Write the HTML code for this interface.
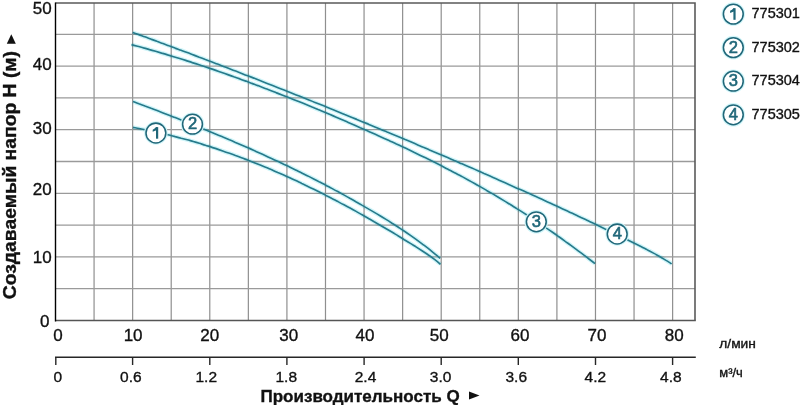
<!DOCTYPE html>
<html><head><meta charset="utf-8"><style>
html,body{margin:0;padding:0;background:#fff;}
body{width:800px;height:405px;overflow:hidden;}
svg{display:block;will-change:transform;font-family:"Liberation Sans",sans-serif;}
</style></head><body>
<svg width="800" height="405" viewBox="0 0 800 405">
<line x1="94.07" y1="3" x2="94.07" y2="320" stroke="#8f8f8f" stroke-width="1.2"/>
<line x1="132.64" y1="3" x2="132.64" y2="320" stroke="#8f8f8f" stroke-width="1.2"/>
<line x1="171.21" y1="3" x2="171.21" y2="320" stroke="#8f8f8f" stroke-width="1.2"/>
<line x1="209.78" y1="3" x2="209.78" y2="320" stroke="#8f8f8f" stroke-width="1.2"/>
<line x1="248.35" y1="3" x2="248.35" y2="320" stroke="#8f8f8f" stroke-width="1.2"/>
<line x1="286.92" y1="3" x2="286.92" y2="320" stroke="#8f8f8f" stroke-width="1.2"/>
<line x1="325.49" y1="3" x2="325.49" y2="320" stroke="#8f8f8f" stroke-width="1.2"/>
<line x1="364.06" y1="3" x2="364.06" y2="320" stroke="#8f8f8f" stroke-width="1.2"/>
<line x1="402.63" y1="3" x2="402.63" y2="320" stroke="#8f8f8f" stroke-width="1.2"/>
<line x1="441.20" y1="3" x2="441.20" y2="320" stroke="#8f8f8f" stroke-width="1.2"/>
<line x1="479.77" y1="3" x2="479.77" y2="320" stroke="#8f8f8f" stroke-width="1.2"/>
<line x1="518.34" y1="3" x2="518.34" y2="320" stroke="#8f8f8f" stroke-width="1.2"/>
<line x1="556.91" y1="3" x2="556.91" y2="320" stroke="#8f8f8f" stroke-width="1.2"/>
<line x1="595.48" y1="3" x2="595.48" y2="320" stroke="#8f8f8f" stroke-width="1.2"/>
<line x1="634.05" y1="3" x2="634.05" y2="320" stroke="#8f8f8f" stroke-width="1.2"/>
<line x1="672.62" y1="3" x2="672.62" y2="320" stroke="#8f8f8f" stroke-width="1.2"/>
<line x1="56" y1="288.70" x2="695" y2="288.70" stroke="#9a9a9a" stroke-width="1.3"/>
<line x1="56" y1="256.90" x2="695" y2="256.90" stroke="#9a9a9a" stroke-width="1.3"/>
<line x1="56" y1="225.10" x2="695" y2="225.10" stroke="#9a9a9a" stroke-width="1.3"/>
<line x1="56" y1="193.30" x2="695" y2="193.30" stroke="#9a9a9a" stroke-width="1.3"/>
<line x1="56" y1="161.50" x2="695" y2="161.50" stroke="#9a9a9a" stroke-width="1.3"/>
<line x1="56" y1="129.70" x2="695" y2="129.70" stroke="#9a9a9a" stroke-width="1.3"/>
<line x1="56" y1="97.90" x2="695" y2="97.90" stroke="#9a9a9a" stroke-width="1.3"/>
<line x1="56" y1="66.10" x2="695" y2="66.10" stroke="#9a9a9a" stroke-width="1.3"/>
<line x1="56" y1="34.30" x2="695" y2="34.30" stroke="#9a9a9a" stroke-width="1.3"/>
<path d="M55.5 3 H695 V320.5" fill="none" stroke="#5a5a5a" stroke-width="1.6"/>
<line x1="55.5" y1="320.4" x2="695.8" y2="320.4" stroke="#555" stroke-width="1.5"/>
<line x1="55.5" y1="2.5" x2="55.5" y2="321.5" stroke="#000" stroke-width="1.4"/>
<path d="M132.7 32.4 C133.7 32.8 136.7 33.9 138.8 34.6 C140.8 35.3 142.8 36.1 144.8 36.8 C146.8 37.6 148.8 38.3 150.9 39.1 C152.9 39.8 154.9 40.5 156.9 41.3 C158.9 42.0 161.0 42.8 163.0 43.5 C165.0 44.3 167.0 45.0 169.0 45.8 C171.1 46.5 173.1 47.3 175.1 48.1 C177.1 48.8 179.1 49.6 181.1 50.3 C183.2 51.1 185.2 51.8 187.2 52.6 C189.2 53.4 191.2 54.1 193.3 54.9 C195.3 55.6 197.3 56.4 199.3 57.2 C201.3 57.9 203.4 58.7 205.4 59.5 C207.4 60.2 209.4 61.0 211.4 61.8 C213.4 62.6 215.5 63.3 217.5 64.1 C219.5 64.9 221.5 65.6 223.5 66.4 C225.6 67.2 227.6 68.0 229.6 68.7 C231.6 69.5 233.6 70.3 235.7 71.1 C237.7 71.9 239.7 72.6 241.7 73.4 C243.7 74.2 245.7 75.0 247.8 75.8 C249.8 76.6 251.8 77.4 253.8 78.1 C255.8 78.9 257.9 79.7 259.9 80.5 C261.9 81.3 263.9 82.1 265.9 82.9 C268.0 83.7 270.0 84.5 272.0 85.3 C274.0 86.1 276.0 86.9 278.0 87.7 C280.1 88.5 282.1 89.3 284.1 90.1 C286.1 90.9 288.1 91.7 290.2 92.5 C292.2 93.3 294.2 94.1 296.2 94.9 C298.2 95.7 300.3 96.5 302.3 97.3 C304.3 98.1 306.3 98.9 308.3 99.7 C310.3 100.5 312.4 101.3 314.4 102.2 C316.4 103.0 318.4 103.8 320.4 104.6 C322.5 105.4 324.5 106.2 326.5 107.1 C328.5 107.9 330.5 108.7 332.6 109.5 C334.6 110.3 336.6 111.2 338.6 112.0 C340.6 112.8 342.6 113.6 344.7 114.5 C346.7 115.3 348.7 116.1 350.7 116.9 C352.7 117.8 354.8 118.6 356.8 119.4 C358.8 120.2 360.8 121.1 362.8 121.9 C364.9 122.7 366.9 123.6 368.9 124.4 C370.9 125.3 372.9 126.1 374.9 126.9 C377.0 127.8 379.0 128.6 381.0 129.4 C383.0 130.3 385.0 131.1 387.1 132.0 C389.1 132.8 391.1 133.7 393.1 134.5 C395.1 135.3 397.2 136.2 399.2 137.0 C401.2 137.9 403.2 138.7 405.2 139.6 C407.2 140.4 409.3 141.3 411.3 142.1 C413.3 143.0 415.3 143.9 417.3 144.7 C419.4 145.6 421.4 146.4 423.4 147.3 C425.4 148.1 427.4 149.0 429.5 149.9 C431.5 150.7 433.5 151.6 435.5 152.4 C437.5 153.3 439.5 154.2 441.6 155.0 C443.6 155.9 445.6 156.8 447.6 157.6 C449.6 158.5 451.7 159.4 453.7 160.3 C455.7 161.1 457.7 162.0 459.7 162.9 C461.8 163.8 463.8 164.6 465.8 165.5 C467.8 166.4 469.8 167.3 471.8 168.1 C473.9 169.0 475.9 169.9 477.9 170.8 C479.9 171.7 481.9 172.6 484.0 173.5 C486.0 174.3 488.0 175.2 490.0 176.1 C492.0 177.0 494.1 177.9 496.1 178.8 C498.1 179.7 500.1 180.6 502.1 181.5 C504.1 182.4 506.2 183.3 508.2 184.2 C510.2 185.1 512.2 186.0 514.2 186.9 C516.3 187.8 518.3 188.7 520.3 189.6 C522.3 190.5 524.3 191.4 526.4 192.3 C528.4 193.2 530.4 194.1 532.4 195.1 C534.4 196.0 536.4 196.9 538.5 197.8 C540.5 198.7 542.5 199.6 544.5 200.6 C546.5 201.5 548.6 202.4 550.6 203.3 C552.6 204.3 554.6 205.2 556.6 206.1 C558.7 207.0 560.7 208.0 562.7 208.9 C564.7 209.8 566.7 210.8 568.7 211.7 C570.8 212.6 572.8 213.6 574.8 214.5 C576.8 215.5 578.8 216.4 580.9 217.4 C582.9 218.3 584.9 219.3 586.9 220.2 C588.9 221.2 591.0 222.1 593.0 223.1 C595.0 224.0 597.0 225.0 599.0 226.0 C601.0 226.9 603.1 227.9 605.1 228.9 C607.1 229.8 609.1 230.8 611.1 231.8 C613.2 232.8 615.2 233.7 617.2 234.7 C619.2 235.7 621.2 236.7 623.3 237.7 C625.3 238.7 627.3 239.7 629.3 240.7 C631.3 241.7 633.3 242.7 635.4 243.7 C637.4 244.7 639.4 245.7 641.4 246.7 C643.4 247.8 645.5 248.8 647.5 249.9 C649.5 250.9 651.5 252.0 653.5 253.1 C655.6 254.2 657.6 255.3 659.6 256.5 C661.6 257.7 663.6 258.8 665.6 260.1 C667.7 261.3 670.7 263.3 671.7 263.9" fill="none" stroke="#d0f5f9" stroke-width="4.2" style="mix-blend-mode:multiply"/>
<path d="M132.7 32.4 C133.7 32.8 136.7 33.9 138.8 34.6 C140.8 35.3 142.8 36.1 144.8 36.8 C146.8 37.6 148.8 38.3 150.9 39.1 C152.9 39.8 154.9 40.5 156.9 41.3 C158.9 42.0 161.0 42.8 163.0 43.5 C165.0 44.3 167.0 45.0 169.0 45.8 C171.1 46.5 173.1 47.3 175.1 48.1 C177.1 48.8 179.1 49.6 181.1 50.3 C183.2 51.1 185.2 51.8 187.2 52.6 C189.2 53.4 191.2 54.1 193.3 54.9 C195.3 55.6 197.3 56.4 199.3 57.2 C201.3 57.9 203.4 58.7 205.4 59.5 C207.4 60.2 209.4 61.0 211.4 61.8 C213.4 62.6 215.5 63.3 217.5 64.1 C219.5 64.9 221.5 65.6 223.5 66.4 C225.6 67.2 227.6 68.0 229.6 68.7 C231.6 69.5 233.6 70.3 235.7 71.1 C237.7 71.9 239.7 72.6 241.7 73.4 C243.7 74.2 245.7 75.0 247.8 75.8 C249.8 76.6 251.8 77.4 253.8 78.1 C255.8 78.9 257.9 79.7 259.9 80.5 C261.9 81.3 263.9 82.1 265.9 82.9 C268.0 83.7 270.0 84.5 272.0 85.3 C274.0 86.1 276.0 86.9 278.0 87.7 C280.1 88.5 282.1 89.3 284.1 90.1 C286.1 90.9 288.1 91.7 290.2 92.5 C292.2 93.3 294.2 94.1 296.2 94.9 C298.2 95.7 300.3 96.5 302.3 97.3 C304.3 98.1 306.3 98.9 308.3 99.7 C310.3 100.5 312.4 101.3 314.4 102.2 C316.4 103.0 318.4 103.8 320.4 104.6 C322.5 105.4 324.5 106.2 326.5 107.1 C328.5 107.9 330.5 108.7 332.6 109.5 C334.6 110.3 336.6 111.2 338.6 112.0 C340.6 112.8 342.6 113.6 344.7 114.5 C346.7 115.3 348.7 116.1 350.7 116.9 C352.7 117.8 354.8 118.6 356.8 119.4 C358.8 120.2 360.8 121.1 362.8 121.9 C364.9 122.7 366.9 123.6 368.9 124.4 C370.9 125.3 372.9 126.1 374.9 126.9 C377.0 127.8 379.0 128.6 381.0 129.4 C383.0 130.3 385.0 131.1 387.1 132.0 C389.1 132.8 391.1 133.7 393.1 134.5 C395.1 135.3 397.2 136.2 399.2 137.0 C401.2 137.9 403.2 138.7 405.2 139.6 C407.2 140.4 409.3 141.3 411.3 142.1 C413.3 143.0 415.3 143.9 417.3 144.7 C419.4 145.6 421.4 146.4 423.4 147.3 C425.4 148.1 427.4 149.0 429.5 149.9 C431.5 150.7 433.5 151.6 435.5 152.4 C437.5 153.3 439.5 154.2 441.6 155.0 C443.6 155.9 445.6 156.8 447.6 157.6 C449.6 158.5 451.7 159.4 453.7 160.3 C455.7 161.1 457.7 162.0 459.7 162.9 C461.8 163.8 463.8 164.6 465.8 165.5 C467.8 166.4 469.8 167.3 471.8 168.1 C473.9 169.0 475.9 169.9 477.9 170.8 C479.9 171.7 481.9 172.6 484.0 173.5 C486.0 174.3 488.0 175.2 490.0 176.1 C492.0 177.0 494.1 177.9 496.1 178.8 C498.1 179.7 500.1 180.6 502.1 181.5 C504.1 182.4 506.2 183.3 508.2 184.2 C510.2 185.1 512.2 186.0 514.2 186.9 C516.3 187.8 518.3 188.7 520.3 189.6 C522.3 190.5 524.3 191.4 526.4 192.3 C528.4 193.2 530.4 194.1 532.4 195.1 C534.4 196.0 536.4 196.9 538.5 197.8 C540.5 198.7 542.5 199.6 544.5 200.6 C546.5 201.5 548.6 202.4 550.6 203.3 C552.6 204.3 554.6 205.2 556.6 206.1 C558.7 207.0 560.7 208.0 562.7 208.9 C564.7 209.8 566.7 210.8 568.7 211.7 C570.8 212.6 572.8 213.6 574.8 214.5 C576.8 215.5 578.8 216.4 580.9 217.4 C582.9 218.3 584.9 219.3 586.9 220.2 C588.9 221.2 591.0 222.1 593.0 223.1 C595.0 224.0 597.0 225.0 599.0 226.0 C601.0 226.9 603.1 227.9 605.1 228.9 C607.1 229.8 609.1 230.8 611.1 231.8 C613.2 232.8 615.2 233.7 617.2 234.7 C619.2 235.7 621.2 236.7 623.3 237.7 C625.3 238.7 627.3 239.7 629.3 240.7 C631.3 241.7 633.3 242.7 635.4 243.7 C637.4 244.7 639.4 245.7 641.4 246.7 C643.4 247.8 645.5 248.8 647.5 249.9 C649.5 250.9 651.5 252.0 653.5 253.1 C655.6 254.2 657.6 255.3 659.6 256.5 C661.6 257.7 663.6 258.8 665.6 260.1 C667.7 261.3 670.7 263.3 671.7 263.9" fill="none" stroke="#267a8b" stroke-width="1.65"/>
<path d="M131.5 44.6 C132.5 44.9 135.5 45.7 137.5 46.2 C139.5 46.8 141.5 47.3 143.5 47.9 C145.5 48.4 147.6 49.0 149.6 49.6 C151.6 50.1 153.6 50.7 155.6 51.3 C157.6 51.9 159.6 52.5 161.6 53.1 C163.6 53.6 165.6 54.2 167.6 54.9 C169.6 55.5 171.6 56.1 173.6 56.7 C175.6 57.3 177.6 57.9 179.7 58.5 C181.7 59.2 183.7 59.8 185.7 60.4 C187.7 61.1 189.7 61.7 191.7 62.4 C193.7 63.0 195.7 63.7 197.7 64.3 C199.7 65.0 201.7 65.7 203.7 66.3 C205.7 67.0 207.7 67.7 209.8 68.4 C211.8 69.0 213.8 69.7 215.8 70.4 C217.8 71.1 219.8 71.8 221.8 72.5 C223.8 73.2 225.8 73.9 227.8 74.6 C229.8 75.3 231.8 76.0 233.8 76.8 C235.8 77.5 237.8 78.2 239.9 78.9 C241.9 79.7 243.9 80.4 245.9 81.1 C247.9 81.9 249.9 82.6 251.9 83.4 C253.9 84.1 255.9 84.9 257.9 85.6 C259.9 86.4 261.9 87.1 263.9 87.9 C265.9 88.7 267.9 89.4 269.9 90.2 C272.0 91.0 274.0 91.8 276.0 92.6 C278.0 93.3 280.0 94.1 282.0 94.9 C284.0 95.7 286.0 96.5 288.0 97.3 C290.0 98.1 292.0 98.9 294.0 99.7 C296.0 100.5 298.0 101.3 300.0 102.1 C302.1 103.0 304.1 103.8 306.1 104.6 C308.1 105.4 310.1 106.2 312.1 107.1 C314.1 107.9 316.1 108.7 318.1 109.6 C320.1 110.4 322.1 111.3 324.1 112.1 C326.1 112.9 328.1 113.8 330.1 114.6 C332.1 115.5 334.2 116.4 336.2 117.2 C338.2 118.1 340.2 118.9 342.2 119.8 C344.2 120.7 346.2 121.5 348.2 122.4 C350.2 123.3 352.2 124.1 354.2 125.0 C356.2 125.9 358.2 126.8 360.2 127.7 C362.2 128.5 364.3 129.4 366.3 130.3 C368.3 131.2 370.3 132.1 372.3 133.0 C374.3 133.9 376.3 134.8 378.3 135.7 C380.3 136.6 382.3 137.5 384.3 138.4 C386.3 139.3 388.3 140.3 390.3 141.2 C392.3 142.1 394.4 143.0 396.4 144.0 C398.4 144.9 400.4 145.8 402.4 146.8 C404.4 147.7 406.4 148.6 408.4 149.6 C410.4 150.5 412.4 151.5 414.4 152.5 C416.4 153.4 418.4 154.4 420.4 155.4 C422.4 156.4 424.4 157.3 426.5 158.3 C428.5 159.3 430.5 160.3 432.5 161.3 C434.5 162.3 436.5 163.3 438.5 164.3 C440.5 165.4 442.5 166.4 444.5 167.4 C446.5 168.4 448.5 169.5 450.5 170.5 C452.5 171.6 454.5 172.6 456.6 173.7 C458.6 174.8 460.6 175.8 462.6 176.9 C464.6 178.0 466.6 179.1 468.6 180.2 C470.6 181.3 472.6 182.4 474.6 183.5 C476.6 184.7 478.6 185.8 480.6 186.9 C482.6 188.1 484.6 189.2 486.6 190.4 C488.7 191.5 490.7 192.7 492.7 193.9 C494.7 195.1 496.7 196.3 498.7 197.5 C500.7 198.7 502.7 199.9 504.7 201.1 C506.7 202.3 508.7 203.6 510.7 204.8 C512.7 206.1 514.7 207.3 516.7 208.6 C518.8 209.8 520.8 211.1 522.8 212.4 C524.8 213.7 526.8 215.0 528.8 216.3 C530.8 217.6 532.8 218.9 534.8 220.2 C536.8 221.6 538.8 222.9 540.8 224.3 C542.8 225.6 544.8 227.0 546.8 228.4 C548.9 229.7 550.9 231.1 552.9 232.5 C554.9 233.9 556.9 235.3 558.9 236.8 C560.9 238.2 562.9 239.6 564.9 241.1 C566.9 242.5 568.9 244.0 570.9 245.4 C572.9 246.9 574.9 248.4 576.9 249.9 C578.9 251.4 581.0 252.9 583.0 254.4 C585.0 255.9 587.0 257.4 589.0 259.0 C591.0 260.5 594.0 262.8 595.0 263.6" fill="none" stroke="#d0f5f9" stroke-width="4.2" style="mix-blend-mode:multiply"/>
<path d="M131.5 44.6 C132.5 44.9 135.5 45.7 137.5 46.2 C139.5 46.8 141.5 47.3 143.5 47.9 C145.5 48.4 147.6 49.0 149.6 49.6 C151.6 50.1 153.6 50.7 155.6 51.3 C157.6 51.9 159.6 52.5 161.6 53.1 C163.6 53.6 165.6 54.2 167.6 54.9 C169.6 55.5 171.6 56.1 173.6 56.7 C175.6 57.3 177.6 57.9 179.7 58.5 C181.7 59.2 183.7 59.8 185.7 60.4 C187.7 61.1 189.7 61.7 191.7 62.4 C193.7 63.0 195.7 63.7 197.7 64.3 C199.7 65.0 201.7 65.7 203.7 66.3 C205.7 67.0 207.7 67.7 209.8 68.4 C211.8 69.0 213.8 69.7 215.8 70.4 C217.8 71.1 219.8 71.8 221.8 72.5 C223.8 73.2 225.8 73.9 227.8 74.6 C229.8 75.3 231.8 76.0 233.8 76.8 C235.8 77.5 237.8 78.2 239.9 78.9 C241.9 79.7 243.9 80.4 245.9 81.1 C247.9 81.9 249.9 82.6 251.9 83.4 C253.9 84.1 255.9 84.9 257.9 85.6 C259.9 86.4 261.9 87.1 263.9 87.9 C265.9 88.7 267.9 89.4 269.9 90.2 C272.0 91.0 274.0 91.8 276.0 92.6 C278.0 93.3 280.0 94.1 282.0 94.9 C284.0 95.7 286.0 96.5 288.0 97.3 C290.0 98.1 292.0 98.9 294.0 99.7 C296.0 100.5 298.0 101.3 300.0 102.1 C302.1 103.0 304.1 103.8 306.1 104.6 C308.1 105.4 310.1 106.2 312.1 107.1 C314.1 107.9 316.1 108.7 318.1 109.6 C320.1 110.4 322.1 111.3 324.1 112.1 C326.1 112.9 328.1 113.8 330.1 114.6 C332.1 115.5 334.2 116.4 336.2 117.2 C338.2 118.1 340.2 118.9 342.2 119.8 C344.2 120.7 346.2 121.5 348.2 122.4 C350.2 123.3 352.2 124.1 354.2 125.0 C356.2 125.9 358.2 126.8 360.2 127.7 C362.2 128.5 364.3 129.4 366.3 130.3 C368.3 131.2 370.3 132.1 372.3 133.0 C374.3 133.9 376.3 134.8 378.3 135.7 C380.3 136.6 382.3 137.5 384.3 138.4 C386.3 139.3 388.3 140.3 390.3 141.2 C392.3 142.1 394.4 143.0 396.4 144.0 C398.4 144.9 400.4 145.8 402.4 146.8 C404.4 147.7 406.4 148.6 408.4 149.6 C410.4 150.5 412.4 151.5 414.4 152.5 C416.4 153.4 418.4 154.4 420.4 155.4 C422.4 156.4 424.4 157.3 426.5 158.3 C428.5 159.3 430.5 160.3 432.5 161.3 C434.5 162.3 436.5 163.3 438.5 164.3 C440.5 165.4 442.5 166.4 444.5 167.4 C446.5 168.4 448.5 169.5 450.5 170.5 C452.5 171.6 454.5 172.6 456.6 173.7 C458.6 174.8 460.6 175.8 462.6 176.9 C464.6 178.0 466.6 179.1 468.6 180.2 C470.6 181.3 472.6 182.4 474.6 183.5 C476.6 184.7 478.6 185.8 480.6 186.9 C482.6 188.1 484.6 189.2 486.6 190.4 C488.7 191.5 490.7 192.7 492.7 193.9 C494.7 195.1 496.7 196.3 498.7 197.5 C500.7 198.7 502.7 199.9 504.7 201.1 C506.7 202.3 508.7 203.6 510.7 204.8 C512.7 206.1 514.7 207.3 516.7 208.6 C518.8 209.8 520.8 211.1 522.8 212.4 C524.8 213.7 526.8 215.0 528.8 216.3 C530.8 217.6 532.8 218.9 534.8 220.2 C536.8 221.6 538.8 222.9 540.8 224.3 C542.8 225.6 544.8 227.0 546.8 228.4 C548.9 229.7 550.9 231.1 552.9 232.5 C554.9 233.9 556.9 235.3 558.9 236.8 C560.9 238.2 562.9 239.6 564.9 241.1 C566.9 242.5 568.9 244.0 570.9 245.4 C572.9 246.9 574.9 248.4 576.9 249.9 C578.9 251.4 581.0 252.9 583.0 254.4 C585.0 255.9 587.0 257.4 589.0 259.0 C591.0 260.5 594.0 262.8 595.0 263.6" fill="none" stroke="#267a8b" stroke-width="1.65"/>
<path d="M133.0 101.4 C134.0 101.8 137.0 102.9 139.0 103.7 C141.0 104.4 143.0 105.2 145.0 106.0 C147.1 106.7 149.1 107.5 151.1 108.3 C153.1 109.0 155.1 109.8 157.1 110.6 C159.1 111.4 161.1 112.1 163.1 112.9 C165.1 113.7 167.1 114.5 169.1 115.3 C171.1 116.1 173.2 116.8 175.2 117.6 C177.2 118.4 179.2 119.2 181.2 120.0 C183.2 120.8 185.2 121.6 187.2 122.4 C189.2 123.2 191.2 124.0 193.2 124.8 C195.2 125.6 197.3 126.5 199.3 127.3 C201.3 128.1 203.3 128.9 205.3 129.7 C207.3 130.5 209.3 131.4 211.3 132.2 C213.3 133.0 215.3 133.9 217.3 134.7 C219.3 135.5 221.3 136.4 223.4 137.2 C225.4 138.1 227.4 138.9 229.4 139.8 C231.4 140.6 233.4 141.5 235.4 142.4 C237.4 143.2 239.4 144.1 241.4 145.0 C243.4 145.9 245.4 146.7 247.4 147.6 C249.5 148.5 251.5 149.4 253.5 150.3 C255.5 151.2 257.5 152.1 259.5 153.0 C261.5 153.9 263.5 154.8 265.5 155.7 C267.5 156.7 269.5 157.6 271.5 158.5 C273.5 159.4 275.6 160.4 277.6 161.3 C279.6 162.3 281.6 163.2 283.6 164.2 C285.6 165.1 287.6 166.1 289.6 167.0 C291.6 168.0 293.6 169.0 295.6 170.0 C297.6 171.0 299.7 171.9 301.7 172.9 C303.7 173.9 305.7 174.9 307.7 175.9 C309.7 177.0 311.7 178.0 313.7 179.0 C315.7 180.0 317.7 181.0 319.7 182.1 C321.7 183.1 323.7 184.2 325.8 185.2 C327.8 186.3 329.8 187.3 331.8 188.4 C333.8 189.5 335.8 190.6 337.8 191.6 C339.8 192.7 341.8 193.8 343.8 194.9 C345.8 196.0 347.8 197.1 349.8 198.3 C351.9 199.4 353.9 200.5 355.9 201.7 C357.9 202.8 359.9 203.9 361.9 205.1 C363.9 206.2 365.9 207.4 367.9 208.6 C369.9 209.8 371.9 210.9 373.9 212.1 C375.9 213.3 378.0 214.5 380.0 215.7 C382.0 217.0 384.0 218.2 386.0 219.4 C388.0 220.6 390.0 221.9 392.0 223.2 C394.0 224.4 396.0 225.7 398.0 227.0 C400.0 228.3 402.1 229.6 404.1 231.0 C406.1 232.3 408.1 233.7 410.1 235.1 C412.1 236.5 414.1 237.9 416.1 239.3 C418.1 240.8 420.1 242.3 422.1 243.8 C424.1 245.3 426.1 246.9 428.2 248.4 C430.2 250.0 432.2 251.7 434.2 253.3 C436.2 255.0 439.2 257.6 440.2 258.4" fill="none" stroke="#d0f5f9" stroke-width="4.2" style="mix-blend-mode:multiply"/>
<path d="M133.0 101.4 C134.0 101.8 137.0 102.9 139.0 103.7 C141.0 104.4 143.0 105.2 145.0 106.0 C147.1 106.7 149.1 107.5 151.1 108.3 C153.1 109.0 155.1 109.8 157.1 110.6 C159.1 111.4 161.1 112.1 163.1 112.9 C165.1 113.7 167.1 114.5 169.1 115.3 C171.1 116.1 173.2 116.8 175.2 117.6 C177.2 118.4 179.2 119.2 181.2 120.0 C183.2 120.8 185.2 121.6 187.2 122.4 C189.2 123.2 191.2 124.0 193.2 124.8 C195.2 125.6 197.3 126.5 199.3 127.3 C201.3 128.1 203.3 128.9 205.3 129.7 C207.3 130.5 209.3 131.4 211.3 132.2 C213.3 133.0 215.3 133.9 217.3 134.7 C219.3 135.5 221.3 136.4 223.4 137.2 C225.4 138.1 227.4 138.9 229.4 139.8 C231.4 140.6 233.4 141.5 235.4 142.4 C237.4 143.2 239.4 144.1 241.4 145.0 C243.4 145.9 245.4 146.7 247.4 147.6 C249.5 148.5 251.5 149.4 253.5 150.3 C255.5 151.2 257.5 152.1 259.5 153.0 C261.5 153.9 263.5 154.8 265.5 155.7 C267.5 156.7 269.5 157.6 271.5 158.5 C273.5 159.4 275.6 160.4 277.6 161.3 C279.6 162.3 281.6 163.2 283.6 164.2 C285.6 165.1 287.6 166.1 289.6 167.0 C291.6 168.0 293.6 169.0 295.6 170.0 C297.6 171.0 299.7 171.9 301.7 172.9 C303.7 173.9 305.7 174.9 307.7 175.9 C309.7 177.0 311.7 178.0 313.7 179.0 C315.7 180.0 317.7 181.0 319.7 182.1 C321.7 183.1 323.7 184.2 325.8 185.2 C327.8 186.3 329.8 187.3 331.8 188.4 C333.8 189.5 335.8 190.6 337.8 191.6 C339.8 192.7 341.8 193.8 343.8 194.9 C345.8 196.0 347.8 197.1 349.8 198.3 C351.9 199.4 353.9 200.5 355.9 201.7 C357.9 202.8 359.9 203.9 361.9 205.1 C363.9 206.2 365.9 207.4 367.9 208.6 C369.9 209.8 371.9 210.9 373.9 212.1 C375.9 213.3 378.0 214.5 380.0 215.7 C382.0 217.0 384.0 218.2 386.0 219.4 C388.0 220.6 390.0 221.9 392.0 223.2 C394.0 224.4 396.0 225.7 398.0 227.0 C400.0 228.3 402.1 229.6 404.1 231.0 C406.1 232.3 408.1 233.7 410.1 235.1 C412.1 236.5 414.1 237.9 416.1 239.3 C418.1 240.8 420.1 242.3 422.1 243.8 C424.1 245.3 426.1 246.9 428.2 248.4 C430.2 250.0 432.2 251.7 434.2 253.3 C436.2 255.0 439.2 257.6 440.2 258.4" fill="none" stroke="#267a8b" stroke-width="1.65"/>
<path d="M133.0 127.4 C134.0 127.6 137.0 128.1 139.0 128.5 C141.0 128.9 143.0 129.3 145.1 129.7 C147.1 130.1 149.1 130.5 151.1 130.9 C153.1 131.3 155.1 131.8 157.1 132.2 C159.1 132.7 161.1 133.1 163.1 133.6 C165.2 134.1 167.2 134.5 169.2 135.0 C171.2 135.5 173.2 136.0 175.2 136.6 C177.2 137.1 179.2 137.6 181.2 138.2 C183.2 138.7 185.3 139.2 187.3 139.8 C189.3 140.4 191.3 140.9 193.3 141.5 C195.3 142.1 197.3 142.7 199.3 143.3 C201.3 143.9 203.3 144.6 205.4 145.2 C207.4 145.8 209.4 146.5 211.4 147.1 C213.4 147.8 215.4 148.4 217.4 149.1 C219.4 149.8 221.4 150.5 223.4 151.2 C225.5 151.9 227.5 152.6 229.5 153.3 C231.5 154.0 233.5 154.7 235.5 155.5 C237.5 156.2 239.5 156.9 241.5 157.7 C243.5 158.5 245.5 159.2 247.6 160.0 C249.6 160.8 251.6 161.6 253.6 162.4 C255.6 163.2 257.6 164.0 259.6 164.8 C261.6 165.6 263.6 166.5 265.6 167.3 C267.7 168.1 269.7 169.0 271.7 169.8 C273.7 170.7 275.7 171.6 277.7 172.5 C279.7 173.3 281.7 174.2 283.7 175.1 C285.7 176.0 287.8 176.9 289.8 177.8 C291.8 178.8 293.8 179.7 295.8 180.6 C297.8 181.6 299.8 182.5 301.8 183.5 C303.8 184.4 305.8 185.4 307.9 186.4 C309.9 187.3 311.9 188.3 313.9 189.3 C315.9 190.3 317.9 191.3 319.9 192.3 C321.9 193.3 323.9 194.3 325.9 195.4 C328.0 196.4 330.0 197.4 332.0 198.5 C334.0 199.5 336.0 200.6 338.0 201.6 C340.0 202.7 342.0 203.8 344.0 204.8 C346.0 205.9 348.0 207.0 350.1 208.1 C352.1 209.2 354.1 210.3 356.1 211.4 C358.1 212.5 360.1 213.7 362.1 214.8 C364.1 215.9 366.1 217.1 368.1 218.2 C370.2 219.4 372.2 220.5 374.2 221.7 C376.2 222.8 378.2 224.0 380.2 225.2 C382.2 226.4 384.2 227.5 386.2 228.7 C388.2 229.9 390.3 231.1 392.3 232.3 C394.3 233.5 396.3 234.8 398.3 236.0 C400.3 237.2 402.3 238.4 404.3 239.7 C406.3 240.9 408.3 242.1 410.4 243.4 C412.4 244.6 414.4 245.9 416.4 247.1 C418.4 248.4 420.4 249.7 422.4 251.0 C424.4 252.3 426.4 253.6 428.4 255.0 C430.5 256.4 432.5 257.9 434.5 259.4 C436.5 260.9 439.5 263.4 440.5 264.3" fill="none" stroke="#d0f5f9" stroke-width="4.2" style="mix-blend-mode:multiply"/>
<path d="M133.0 127.4 C134.0 127.6 137.0 128.1 139.0 128.5 C141.0 128.9 143.0 129.3 145.1 129.7 C147.1 130.1 149.1 130.5 151.1 130.9 C153.1 131.3 155.1 131.8 157.1 132.2 C159.1 132.7 161.1 133.1 163.1 133.6 C165.2 134.1 167.2 134.5 169.2 135.0 C171.2 135.5 173.2 136.0 175.2 136.6 C177.2 137.1 179.2 137.6 181.2 138.2 C183.2 138.7 185.3 139.2 187.3 139.8 C189.3 140.4 191.3 140.9 193.3 141.5 C195.3 142.1 197.3 142.7 199.3 143.3 C201.3 143.9 203.3 144.6 205.4 145.2 C207.4 145.8 209.4 146.5 211.4 147.1 C213.4 147.8 215.4 148.4 217.4 149.1 C219.4 149.8 221.4 150.5 223.4 151.2 C225.5 151.9 227.5 152.6 229.5 153.3 C231.5 154.0 233.5 154.7 235.5 155.5 C237.5 156.2 239.5 156.9 241.5 157.7 C243.5 158.5 245.5 159.2 247.6 160.0 C249.6 160.8 251.6 161.6 253.6 162.4 C255.6 163.2 257.6 164.0 259.6 164.8 C261.6 165.6 263.6 166.5 265.6 167.3 C267.7 168.1 269.7 169.0 271.7 169.8 C273.7 170.7 275.7 171.6 277.7 172.5 C279.7 173.3 281.7 174.2 283.7 175.1 C285.7 176.0 287.8 176.9 289.8 177.8 C291.8 178.8 293.8 179.7 295.8 180.6 C297.8 181.6 299.8 182.5 301.8 183.5 C303.8 184.4 305.8 185.4 307.9 186.4 C309.9 187.3 311.9 188.3 313.9 189.3 C315.9 190.3 317.9 191.3 319.9 192.3 C321.9 193.3 323.9 194.3 325.9 195.4 C328.0 196.4 330.0 197.4 332.0 198.5 C334.0 199.5 336.0 200.6 338.0 201.6 C340.0 202.7 342.0 203.8 344.0 204.8 C346.0 205.9 348.0 207.0 350.1 208.1 C352.1 209.2 354.1 210.3 356.1 211.4 C358.1 212.5 360.1 213.7 362.1 214.8 C364.1 215.9 366.1 217.1 368.1 218.2 C370.2 219.4 372.2 220.5 374.2 221.7 C376.2 222.8 378.2 224.0 380.2 225.2 C382.2 226.4 384.2 227.5 386.2 228.7 C388.2 229.9 390.3 231.1 392.3 232.3 C394.3 233.5 396.3 234.8 398.3 236.0 C400.3 237.2 402.3 238.4 404.3 239.7 C406.3 240.9 408.3 242.1 410.4 243.4 C412.4 244.6 414.4 245.9 416.4 247.1 C418.4 248.4 420.4 249.7 422.4 251.0 C424.4 252.3 426.4 253.6 428.4 255.0 C430.5 256.4 432.5 257.9 434.5 259.4 C436.5 260.9 439.5 263.4 440.5 264.3" fill="none" stroke="#267a8b" stroke-width="1.65"/>
<circle cx="155.9" cy="133" r="9.9" fill="#fff" stroke="#d0f5f9" stroke-width="3.8"/>
<circle cx="155.9" cy="133" r="9.9" fill="#fff" stroke="#206779" stroke-width="1.55"/>
<rect x="156.00" y="127.10" width="2.2" height="11.6" fill="#206779"/>
<polygon points="156.00,127.10 157.10,127.10 157.10,130.10 152.70,131.80 152.70,129.70 154.60,128.60" fill="#206779"/>
<circle cx="192.5" cy="124.2" r="9.9" fill="#fff" stroke="#d0f5f9" stroke-width="3.8"/>
<circle cx="192.5" cy="124.2" r="9.9" fill="#fff" stroke="#206779" stroke-width="1.55"/>
<text x="192.6" y="129.4" text-anchor="middle" font-size="16.5" font-weight="normal" fill="#206779" stroke="#206779" stroke-width="0.6">2</text>
<circle cx="536.3" cy="221.8" r="9.9" fill="#fff" stroke="#d0f5f9" stroke-width="3.8"/>
<circle cx="536.3" cy="221.8" r="9.9" fill="#fff" stroke="#206779" stroke-width="1.55"/>
<text x="536.4" y="227.0" text-anchor="middle" font-size="16.5" font-weight="normal" fill="#206779" stroke="#206779" stroke-width="0.6">3</text>
<circle cx="617.2" cy="234" r="9.9" fill="#fff" stroke="#d0f5f9" stroke-width="3.8"/>
<circle cx="617.2" cy="234" r="9.9" fill="#fff" stroke="#206779" stroke-width="1.55"/>
<text x="617.3000000000001" y="239.2" text-anchor="middle" font-size="16.5" font-weight="normal" fill="#206779" stroke="#206779" stroke-width="0.6">4</text>
<circle cx="733.3" cy="14.1" r="9.9" fill="#fff" stroke="#d0f5f9" stroke-width="3.8"/>
<circle cx="733.3" cy="14.1" r="9.9" fill="#fff" stroke="#206779" stroke-width="1.55"/>
<rect x="733.40" y="8.20" width="2.2" height="11.6" fill="#206779"/>
<polygon points="733.40,8.20 734.50,8.20 734.50,11.20 730.10,12.90 730.10,10.80 732.00,9.70" fill="#206779"/>
<text x="751.5" y="18.1" font-size="14.5" fill="#111" stroke="#111" stroke-width="0.35">775301</text>
<circle cx="733.3" cy="47.6" r="9.9" fill="#fff" stroke="#d0f5f9" stroke-width="3.8"/>
<circle cx="733.3" cy="47.6" r="9.9" fill="#fff" stroke="#206779" stroke-width="1.55"/>
<text x="733.4" y="52.8" text-anchor="middle" font-size="16.5" font-weight="normal" fill="#206779" stroke="#206779" stroke-width="0.6">2</text>
<text x="751.5" y="51.7" font-size="14.5" fill="#111" stroke="#111" stroke-width="0.35">775302</text>
<circle cx="733.3" cy="81.2" r="9.9" fill="#fff" stroke="#d0f5f9" stroke-width="3.8"/>
<circle cx="733.3" cy="81.2" r="9.9" fill="#fff" stroke="#206779" stroke-width="1.55"/>
<text x="733.4" y="86.4" text-anchor="middle" font-size="16.5" font-weight="normal" fill="#206779" stroke="#206779" stroke-width="0.6">3</text>
<text x="751.5" y="85.3" font-size="14.5" fill="#111" stroke="#111" stroke-width="0.35">775304</text>
<circle cx="733.3" cy="114.8" r="9.9" fill="#fff" stroke="#d0f5f9" stroke-width="3.8"/>
<circle cx="733.3" cy="114.8" r="9.9" fill="#fff" stroke="#206779" stroke-width="1.55"/>
<text x="733.4" y="120.0" text-anchor="middle" font-size="16.5" font-weight="normal" fill="#206779" stroke="#206779" stroke-width="0.6">4</text>
<text x="751.5" y="118.9" font-size="14.5" fill="#111" stroke="#111" stroke-width="0.35">775305</text>
<text x="51.7" y="13.8" text-anchor="end" font-size="17" fill="#111" stroke="#111" stroke-width="0.35">50</text>
<text x="51.7" y="69.9" text-anchor="end" font-size="17" fill="#111" stroke="#111" stroke-width="0.35">40</text>
<text x="51.7" y="134.3" text-anchor="end" font-size="17" fill="#111" stroke="#111" stroke-width="0.35">30</text>
<text x="51.7" y="194.9" text-anchor="end" font-size="17" fill="#111" stroke="#111" stroke-width="0.35">20</text>
<text x="51.7" y="263.2" text-anchor="end" font-size="17" fill="#111" stroke="#111" stroke-width="0.35">10</text>
<text x="49.5" y="326.5" text-anchor="end" font-size="17" fill="#111" stroke="#111" stroke-width="0.35">0</text>
<text x="57.9" y="340.5" text-anchor="middle" font-size="17" fill="#111" stroke="#111" stroke-width="0.35">0</text>
<text x="133.1" y="340.5" text-anchor="middle" font-size="17" fill="#111" stroke="#111" stroke-width="0.35">10</text>
<text x="209.7" y="340.5" text-anchor="middle" font-size="17" fill="#111" stroke="#111" stroke-width="0.35">20</text>
<text x="288.7" y="340.5" text-anchor="middle" font-size="17" fill="#111" stroke="#111" stroke-width="0.35">30</text>
<text x="364.9" y="340.5" text-anchor="middle" font-size="17" fill="#111" stroke="#111" stroke-width="0.35">40</text>
<text x="439.3" y="340.5" text-anchor="middle" font-size="17" fill="#111" stroke="#111" stroke-width="0.35">50</text>
<text x="520" y="340.5" text-anchor="middle" font-size="17" fill="#111" stroke="#111" stroke-width="0.35">60</text>
<text x="597" y="340.5" text-anchor="middle" font-size="17" fill="#111" stroke="#111" stroke-width="0.35">70</text>
<text x="674.25" y="340.5" text-anchor="middle" font-size="17" fill="#111" stroke="#111" stroke-width="0.35">80</text>
<line x1="55" y1="357.3" x2="695.8" y2="357.3" stroke="#262626" stroke-width="1.5"/>
<line x1="55.8" y1="357" x2="55.8" y2="365" stroke="#262626" stroke-width="1.4"/>
<line x1="132.6" y1="357" x2="132.6" y2="365" stroke="#262626" stroke-width="1.4"/>
<line x1="209.8" y1="357" x2="209.8" y2="365" stroke="#262626" stroke-width="1.4"/>
<line x1="286.9" y1="357" x2="286.9" y2="365" stroke="#262626" stroke-width="1.4"/>
<line x1="364.1" y1="357" x2="364.1" y2="365" stroke="#262626" stroke-width="1.4"/>
<line x1="441.2" y1="357" x2="441.2" y2="365" stroke="#262626" stroke-width="1.4"/>
<line x1="518.3" y1="357" x2="518.3" y2="365" stroke="#262626" stroke-width="1.4"/>
<line x1="595.5" y1="357" x2="595.5" y2="365" stroke="#262626" stroke-width="1.4"/>
<line x1="672.6" y1="357" x2="672.6" y2="365" stroke="#262626" stroke-width="1.4"/>
<text x="57.9" y="382" text-anchor="middle" font-size="15.5" fill="#111" stroke="#111" stroke-width="0.35">0</text>
<text x="130.9" y="382" text-anchor="middle" font-size="15.5" fill="#111" stroke="#111" stroke-width="0.35">0.6</text>
<text x="206.25" y="382" text-anchor="middle" font-size="15.5" fill="#111" stroke="#111" stroke-width="0.35">1.2</text>
<text x="286.25" y="382" text-anchor="middle" font-size="15.5" fill="#111" stroke="#111" stroke-width="0.35">1.8</text>
<text x="365.5" y="382" text-anchor="middle" font-size="15.5" fill="#111" stroke="#111" stroke-width="0.35">2.4</text>
<text x="440.6" y="382" text-anchor="middle" font-size="15.5" fill="#111" stroke="#111" stroke-width="0.35">3.0</text>
<text x="516.25" y="382" text-anchor="middle" font-size="15.5" fill="#111" stroke="#111" stroke-width="0.35">3.6</text>
<text x="595.4" y="382" text-anchor="middle" font-size="15.5" fill="#111" stroke="#111" stroke-width="0.35">4.2</text>
<text x="670.9" y="382" text-anchor="middle" font-size="15.5" fill="#111" stroke="#111" stroke-width="0.35">4.8</text>
<text x="719.3" y="348.2" font-size="12.5" textLength="36.6" lengthAdjust="spacingAndGlyphs" fill="#111" stroke="#111" stroke-width="0.35">л/мин</text>
<text x="719.3" y="377.3" font-size="12.5" textLength="23.5" lengthAdjust="spacingAndGlyphs" fill="#111" stroke="#111" stroke-width="0.35">м³/ч</text>
<text x="260.5" y="401.7" font-size="17" font-weight="bold" fill="#111" stroke="#111" stroke-width="0.35">Производительность Q</text>
<polygon points="469,391.5 479.5,395.5 469,399.5" fill="#111"/>
<text transform="translate(16.3,299.2) rotate(-90)" x="0" y="0" font-size="17.5" font-weight="bold" textLength="248.2" lengthAdjust="spacingAndGlyphs" fill="#111" stroke="#111" stroke-width="0.35">Создаваемый напор H (м)</text>
<polygon points="6.8,43.8 15.8,43.8 11.3,34.2" fill="#111"/>
</svg>
</body></html>
